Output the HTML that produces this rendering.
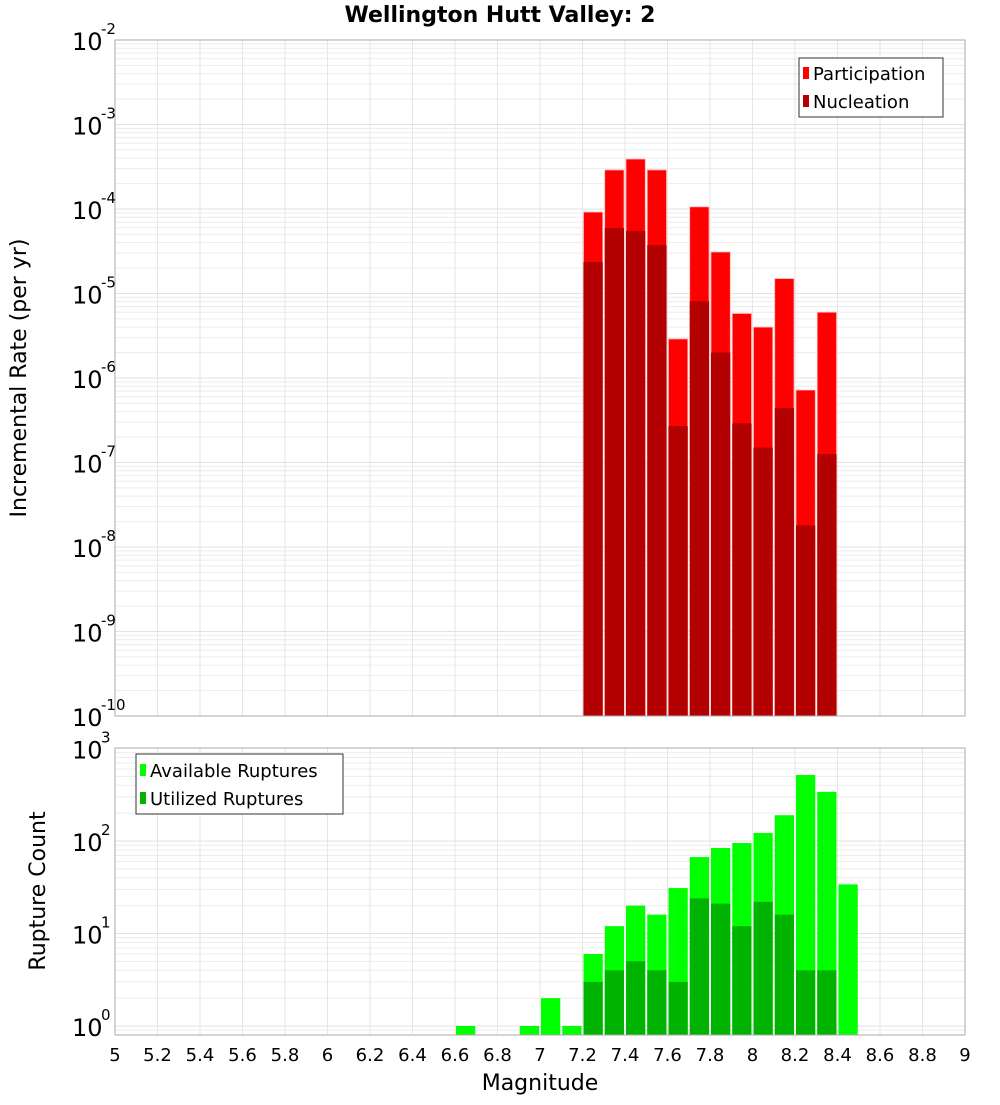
<!DOCTYPE html>
<html><head><meta charset="utf-8"><style>
body{margin:0;background:#fff}
svg{font-family:"DejaVu Sans","Liberation Sans",sans-serif}
</style></head><body>
<svg id="c" width="1000" height="1100" xmlns="http://www.w3.org/2000/svg"></svg>
<script>
const mags=[7.25,7.35,7.45,7.55,7.65,7.75,7.85,7.95,8.05,8.15,8.25,8.35];
const participation=[9.2e-5,2.9e-4,3.9e-4,2.9e-4,2.9e-6,1.06e-4,3.1e-5,5.8e-6,4e-6,1.5e-5,7.2e-7,6e-6];
const nucleation=[2.36e-5,5.96e-5,5.5e-5,3.75e-5,2.7e-7,8.1e-6,2e-6,2.9e-7,1.5e-7,4.4e-7,1.8e-8,1.26e-7];
const cMags=[6.65,6.95,7.05,7.15,7.25,7.35,7.45,7.55,7.65,7.75,7.85,7.95,8.05,8.15,8.25,8.35,8.45];
const available=[1,1,2,1,6,12,20,16,31,67,84,95,122,190,517,340,34];
const utilized=[0,0,0,0,3,4,5,4,3,24,21,12,22,16,4,4,0];
const xTicks=[5,5.2,5.4,5.6,5.8,6,6.2,6.4,6.6,6.8,7,7.2,7.4,7.6,7.8,8,8.2,8.4,8.6,8.8,9];
const topExp=[-2,-3,-4,-5,-6,-7,-8,-9,-10];
const botExp=[3,2,1,0];

const svg=document.getElementById('c');
const NS='http://www.w3.org/2000/svg';
function el(t,a,p){const e=document.createElementNS(NS,t);for(const k in a)e.setAttribute(k,a[k]);(p||svg).appendChild(e);return e;}
const X0=115,X1=965;
const x=m=>X0+(m-5)/4*(X1-X0);
const T0=40,T1=716;
const yT=v=>T0+(-2-Math.log10(v))*(T1-T0)/8;
const B0=748,B1=1035,BD=92.5;
const yB=v=>1026-Math.log10(v)*BD;
const bw=x(5.1)-x(5);

function grid(top,bot,yf,expMin,expMax,g){
  for(let e=expMin;e<expMax;e++){for(let k=1;k<10;k++){const yy=yf(k*Math.pow(10,e));if(yy>=top-0.5&&yy<=bot+0.5){
    const l=el('line',{x1:X0,x2:X1,y1:yy,y2:yy,stroke:k==1?'#e2e2e2':'#ececec','stroke-width':1},g);
    }}}
  xTicks.forEach(t=>{const l=el('line',{x1:x(t),x2:x(t),y1:top,y2:bot,stroke:'#e6e6e6'},g);
    });
}
// title
const ti=el('text',{x:500,y:22,'text-anchor':'middle','font-size':22,'font-weight':'bold'});ti.textContent='Wellington Hutt Valley: 2';


// top plot
const gt=el('g',{});
el('rect',{x:X0,y:T0,width:X1-X0,height:T1-T0,fill:'#fff'},gt);
grid(T0,T1,yT,-10,-2,gt);
mags.forEach((m,i)=>{
  const r=el('rect',{x:x(m)-bw/2+1,y:yT(participation[i]),width:bw-2,height:T1-yT(participation[i]),fill:'#ff0000',stroke:'#ffb0b0','stroke-width':0.8},gt);
  
  const n=el('rect',{x:x(m)-bw/2+1,y:yT(nucleation[i]),width:bw-2,height:T1-yT(nucleation[i]),fill:'#b30000'},gt);
  
});
el('rect',{x:X0,y:T0,width:X1-X0,height:T1-T0,fill:'none',stroke:'#aaa'},gt);
topExp.forEach(e=>{const yy=yT(Math.pow(10,e));
  const t=el('text',{x:72,y:yy+10,'font-size':24},gt);t.textContent='10';
  
  const s=el('text',{x:101,y:yy-6,'font-size':15},gt);s.textContent=String(e);
  });
const yt=el('text',{x:0,y:0,'font-size':22,'text-anchor':'middle',transform:'translate(26,378) rotate(-90)'},gt);yt.textContent='Incremental Rate (per yr)';

const lg=el('g',{},gt);
el('rect',{x:799,y:58,width:144,height:59,fill:'#fff',stroke:'#333'},lg);
el('rect',{x:803,y:67,width:6,height:12,fill:'#ff0000'},lg);
el('rect',{x:803,y:95,width:6,height:12,fill:'#b30000'},lg);
let t1=el('text',{x:813,y:80,'font-size':18},lg);t1.textContent='Participation';

let t2=el('text',{x:813,y:108,'font-size':18},lg);t2.textContent='Nucleation';


// bottom plot
const gb=el('g',{});
grid(B0,B1,yB,-1,3,gb);
cMags.forEach((m,i)=>{
  const r=el('rect',{x:x(m)-bw/2+1,y:yB(available[i]),width:bw-2,height:B1-yB(available[i]),fill:'#00ff00'},gb);
  
  if(utilized[i]>0){const n=el('rect',{x:x(m)-bw/2+1,y:yB(utilized[i]),width:bw-2,height:B1-yB(utilized[i]),fill:'#00b300'},gb);
  }
});
el('rect',{x:X0,y:B0,width:X1-X0,height:B1-B0,fill:'none',stroke:'#aaa'},gb);
botExp.forEach(e=>{const yy=yB(Math.pow(10,e));
  const t=el('text',{x:72,y:yy+10,'font-size':24},gb);t.textContent='10';
  
  const s=el('text',{x:101,y:yy-6,'font-size':15},gb);s.textContent=String(e);
  });
const yt2=el('text',{x:0,y:0,'font-size':22,'text-anchor':'middle',transform:'translate(45,891) rotate(-90)'},gb);yt2.textContent='Rupture Count';

xTicks.forEach(t=>{const l=el('text',{x:x(t),y:1061,'font-size':18,'text-anchor':'middle'},gb);l.textContent=String(t);
  });
const xt=el('text',{x:540,y:1090,'font-size':22,'text-anchor':'middle'},gb);xt.textContent='Magnitude';

const lb=el('g',{},gb);
el('rect',{x:136,y:754,width:207,height:60,fill:'#fff',stroke:'#333'},lb);
el('rect',{x:140,y:764,width:6,height:12,fill:'#00ff00'},lb);
el('rect',{x:140,y:792,width:6,height:12,fill:'#00b300'},lb);
let t3=el('text',{x:150,y:777,'font-size':18},lb);t3.textContent='Available Ruptures';

let t4=el('text',{x:150,y:805,'font-size':18},lb);t4.textContent='Utilized Ruptures';

</script>
</body></html>
